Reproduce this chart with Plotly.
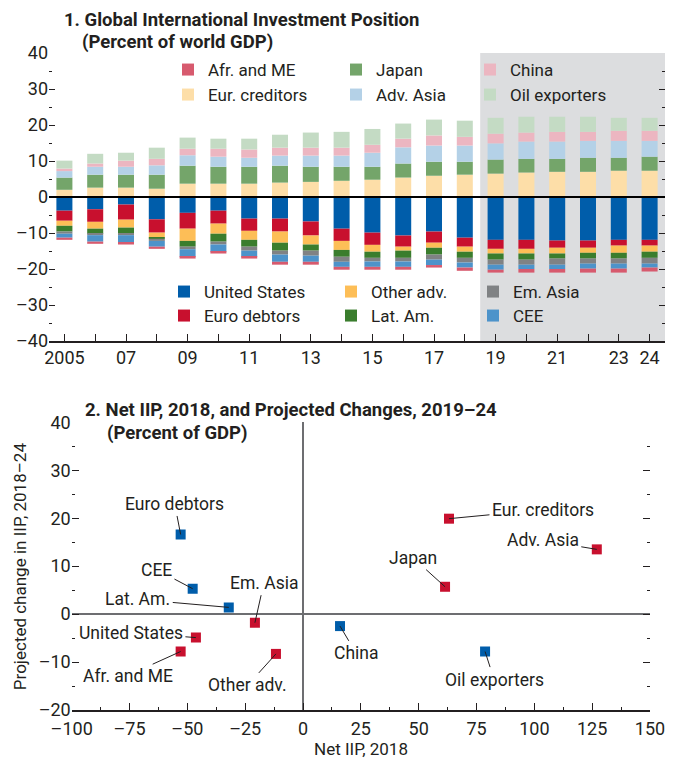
import plotly.graph_objects as go

# ---------------- data: panel 1 (percent of world GDP) ----------------
years = list(range(2005, 2025))
year_labels = ["2005", "", "07", "", "09", "", "11", "", "13", "", "15", "", "17", "",
               "19", "", "21", "", "23", "24"]

eur_creditors = [2.0, 2.6, 2.6, 2.3, 3.7, 3.7, 3.7, 4.0, 4.2, 4.5, 4.8, 5.4, 5.9, 6.2, 6.5, 6.8, 7.0, 7.0, 7.3, 7.3]
japan = [3.4, 3.6, 3.6, 3.9, 5.0, 4.7, 4.7, 4.7, 4.2, 3.9, 3.6, 3.9, 3.9, 3.6, 3.9, 3.8, 3.6, 3.9, 3.6, 3.9]
adv_asia = [1.8, 2.2, 2.2, 2.6, 2.9, 2.8, 2.5, 2.8, 3.1, 3.1, 3.9, 4.5, 4.5, 4.5, 4.5, 4.8, 4.8, 4.7, 4.7, 4.4]
china = [0.7, 0.9, 1.7, 1.8, 1.8, 2.2, 2.3, 2.2, 2.2, 2.2, 2.2, 2.4, 2.8, 2.4, 2.7, 2.5, 2.7, 2.5, 2.8, 2.8]
oil_exporters = [2.2, 2.7, 2.2, 3.1, 3.1, 2.8, 3.0, 3.6, 4.2, 4.4, 4.4, 4.2, 4.4, 4.5, 4.4, 4.4, 4.2, 4.2, 3.6, 3.6]

united_states = [-3.8, -3.4, -2.1, -6.2, -4.4, -3.8, -6.0, -6.0, -6.8, -8.8, -9.9, -10.7, -9.6, -11.3, -11.9, -11.9, -12.1, -12.1, -11.9, -11.9]
euro_debtors = [-2.8, -3.5, -4.2, -3.7, -4.4, -3.6, -3.4, -3.6, -3.9, -3.4, -3.4, -3.1, -3.1, -2.5, -2.5, -2.5, -2.0, -2.0, -1.6, -1.6]
other_adv = [-1.4, -1.9, -2.2, -1.4, -3.4, -2.8, -2.5, -3.1, -2.5, -2.5, -1.9, -1.1, -1.4, -1.4, -1.3, -1.3, -1.6, -1.4, -2.0, -1.7]
lat_am = [-1.6, -1.4, -1.6, -0.3, -1.6, -2.2, -1.9, -2.2, -1.7, -1.9, -1.7, -2.0, -1.9, -1.7, -1.7, -1.7, -1.4, -1.6, -1.6, -1.7]
em_asia = [-0.6, -0.4, -0.5, -0.6, -0.7, -0.8, -1.1, -1.1, -1.4, -1.4, -1.0, -1.0, -1.4, -1.3, -1.4, -1.4, -1.7, -1.4, -1.4, -1.6]
cee = [-1.1, -1.8, -2.1, -1.6, -2.1, -2.0, -1.7, -2.0, -1.7, -1.4, -1.5, -1.5, -1.5, -1.4, -1.4, -1.2, -1.2, -1.4, -1.4, -1.1]
afr_me = [-0.6, -0.6, -0.5, -0.6, -0.5, -0.5, -0.5, -0.8, -0.8, -0.8, -0.8, -0.8, -0.7, -0.9, -0.8, -1.0, -1.0, -1.1, -1.1, -1.1]

proj_start = 2018.5
top_yticks = [40, 30, 20, 10, 0, -10, -20, -30, -40]
top_ytext = ["40", "30", "20", "10", "0", "–10", "–20", "–30", "–40"]

# ---------------- data: panel 2 (percent of GDP) ----------------
groups = ["Euro debtors", "CEE", "Lat. Am.", "Em. Asia", "United States", "Afr. and ME",
          "Other adv.", "China", "Oil exporters", "Japan", "Eur. creditors", "Adv. Asia"]
net_iip_2018 = [-52.9, -47.7, -32.1, -20.8, -46.3, -52.9, -11.7, 16.0, 78.7, 61.4, 63.1, 127.0]
proj_change = [16.6, 5.3, 1.4, -1.8, -4.9, -7.8, -8.3, -2.5, -7.8, 5.7, 19.9, 13.5]
is_blue = [True, True, True, False, False, False, False, True, True, False, False, False]
# label offsets (pixels) of each text from its point
label_dx = [-6, -36, -91, 9, -65, -53, -28, 16, 9, -32, 94, -54]
label_dy = [-31, -19, -8, -40, -5, 24, 31, 27, 28, -29, -9, -9]

bot_xticks = [-100, -75, -50, -25, 0, 25, 50, 75, 100, 125, 150]
bot_xtext = ["–100", "–75", "–50", "–25", "0", "25", "50", "75", "100", "125", "150"]
bot_yticks = [40, 30, 20, 10, 0, -10, -20]
bot_ytext = ["40", "30", "20", "10", "0", "–10", "–20"]

# ---------------- styling ----------------
W, H = 673, 766
OFF = 8  # the page body offsets the figure by 8 px
FONT = "Roboto, sans-serif"
INK = "#231F20"
RED = "#C8102E"
BLUE = "#005DAA"


def px(x):
    return (x - OFF) / W


def py(y):
    return 1 - (y - OFF) / H


fig = go.Figure()

neg_series = [
    ("United States", united_states, "#005DAA"),
    ("Euro debtors", euro_debtors, "#C8102E"),
    ("Other adv.", other_adv, "#FDBE57"),
    ("Lat. Am.", lat_am, "#3A7D2D"),
    ("Em. Asia", em_asia, "#808284"),
    ("CEE", cee, "#4D93CA"),
    ("Afr. and ME", afr_me, "#D75A6E"),
]
pos_series = [
    ("Eur. creditors", eur_creditors, "#FDDEA8"),
    ("Japan", japan, "#74A56A"),
    ("Adv. Asia", adv_asia, "#B4D1E7"),
    ("China", china, "#ECB6C1"),
    ("Oil exporters", oil_exporters, "#C4DBC4"),
]

# legend slot positions: (text-left x px, row-center y px)
legend_pos = {
    "Afr. and ME": (208, 70), "Japan": (376, 70), "China": (510, 70),
    "Eur. creditors": (208, 95), "Adv. Asia": (376, 95), "Oil exporters": (510, 95),
    "United States": (204, 292), "Other adv.": (371, 292), "Em. Asia": (513, 292),
    "Euro debtors": (204, 316), "Lat. Am.": (371, 316), "CEE": (513, 316),
}
legend_names = {}
legend_layouts = {}
for i, name in enumerate(legend_pos):
    key = "legend" if i == 0 else f"legend{i + 1}"
    legend_names[name] = key
    tx, ty = legend_pos[name]
    legend_layouts[key] = dict(
        x=px(tx - 40), y=py(ty), xanchor="left", yanchor="middle",
        bgcolor="rgba(0,0,0,0)", borderwidth=0,
        font=dict(family=FONT, size=17, color=INK),
    )

for name, vals, col in neg_series + pos_series:
    fig.add_trace(go.Bar(
        x=years, y=vals, name=name, marker=dict(color=col, line=dict(width=0)),
        legend=legend_names[name], xaxis="x", yaxis="y", showlegend=True,
    ))

# panel 2 scatter
fig.add_trace(go.Scatter(
    x=net_iip_2018, y=proj_change, mode="markers", xaxis="x2", yaxis="y2",
    marker=dict(symbol="square", size=10, color=[BLUE if b else RED for b in is_blue],
                line=dict(width=0)),
    showlegend=False, hoverinfo="text", text=groups,
))

fig.update_layout(**legend_layouts)

# projection shading + zero line (panel 1)
fig.add_shape(type="rect", xref="x", yref="y domain", x0=proj_start, x1=2024.5, y0=0, y1=1,
              fillcolor="#DCDDDF", line=dict(width=0), layer="below")
fig.add_shape(type="line", xref="x domain", yref="y", x0=0, x1=1, y0=0, y1=0,
              line=dict(color="black", width=1.8), layer="above")

axis_font = dict(family=FONT, size=18, color=INK)

fig.update_layout(
    width=W, height=H,
    margin=dict(l=0, r=0, t=0, b=0, autoexpand=False),
    paper_bgcolor="white", plot_bgcolor="rgba(0,0,0,0)",
    barmode="relative", bargap=0.48,
    font=dict(family=FONT, size=17, color=INK),
    xaxis=dict(
        domain=[px(49), px(665)], range=[2004.5, 2024.5], anchor="y", automargin=False,
        tickmode="array", tickvals=years, ticktext=year_labels,
        ticks="inside", ticklen=7, tickcolor=INK, tickwidth=1,
        showline=True, linecolor=INK, linewidth=1.5, showgrid=False, zeroline=False,
        tickfont=axis_font,
    ),
    yaxis=dict(
        domain=[py(341), py(53)], range=[-40, 40], anchor="x", automargin=False,
        tickmode="array", tickvals=top_yticks, ticktext=top_ytext,
        ticks="inside", ticklen=6, tickcolor=INK, tickwidth=1, mirror="ticks",
        minor=dict(tickvals=[35, 25, 15, 5, -5, -15, -25, -35], ticks="inside", ticklen=3,
                   tickcolor=INK, tickwidth=1),
        showline=False, showgrid=False, zeroline=False, tickfont=axis_font,
    ),
    xaxis2=dict(
        domain=[px(71.7), px(650)], range=[-100, 150], anchor="y2", automargin=False,
        tickmode="array", tickvals=bot_xticks, ticktext=bot_xtext,
        ticks="inside", ticklen=7, tickcolor=INK, tickwidth=1, ticklabelstandoff=2,
        minor=dict(tickvals=[-87.5, -62.5, -37.5, -12.5, 12.5, 37.5, 62.5, 87.5, 112.5, 137.5],
                   ticks="inside", ticklen=3.5, tickcolor=INK, tickwidth=1),
        showline=True, linecolor=INK, linewidth=1.5, showgrid=False,
        zeroline=True, zerolinecolor="#6D6E71", zerolinewidth=1.5,
        tickfont=axis_font,
    ),
    yaxis2=dict(
        domain=[py(710), py(422.3)], range=[-20, 40], anchor="x2", automargin=False,
        tickmode="array", tickvals=bot_yticks, ticktext=bot_ytext,
        ticks="inside", ticklen=7, tickcolor=INK, tickwidth=1, mirror="ticks",
        minor=dict(tickvals=[35, 25, 15, 5, -5, -15], ticks="inside", ticklen=3,
                   tickcolor=INK, tickwidth=1),
        showline=False, showgrid=False,
        zeroline=True, zerolinecolor="#6D6E71", zerolinewidth=1.5,
        tickfont=axis_font,
    ),
)

# titles
titles = [
    ("<b>1. Global International Investment Position</b>", 62, 20),
    ("<b>(Percent of world GDP)</b>", 80, 42),
    ("<b>2. Net IIP, 2018, and Projected Changes, 2019–24</b>", 83, 410),
    ("<b>(Percent of GDP)</b>", 105, 433),
]
for text, x, y in titles:
    fig.add_annotation(text=text, xref="paper", yref="paper", x=px(x), y=py(y),
                       xanchor="left", yanchor="middle", showarrow=False,
                       font=dict(family=FONT, size=18.5, color=INK))

# axis titles (panel 2)
fig.add_annotation(text="Net IIP, 2018", xref="x2 domain", yref="paper", x=0.5, y=py(749),
                   xanchor="center", yanchor="middle", showarrow=False,
                   font=dict(family=FONT, size=17, color=INK))
fig.add_annotation(text="Projected change in IIP, 2018–24", xref="paper", yref="y2 domain",
                   x=px(20), y=0.5, textangle=-90, xanchor="center", yanchor="middle",
                   showarrow=False, font=dict(family=FONT, size=17, color=INK))

# point labels with leader lines
for g, xv, yv, dx, dy in zip(groups, net_iip_2018, proj_change, label_dx, label_dy):
    fig.add_annotation(text=g, x=xv, y=yv, xref="x2", yref="y2", ax=dx, ay=dy,
                       showarrow=True, arrowhead=0, arrowwidth=1, arrowcolor=INK,
                       standoff=0, startstandoff=2, borderpad=0,
                       font=dict(family=FONT, size=17.5, color=INK))

fig.write_html("out.html")
